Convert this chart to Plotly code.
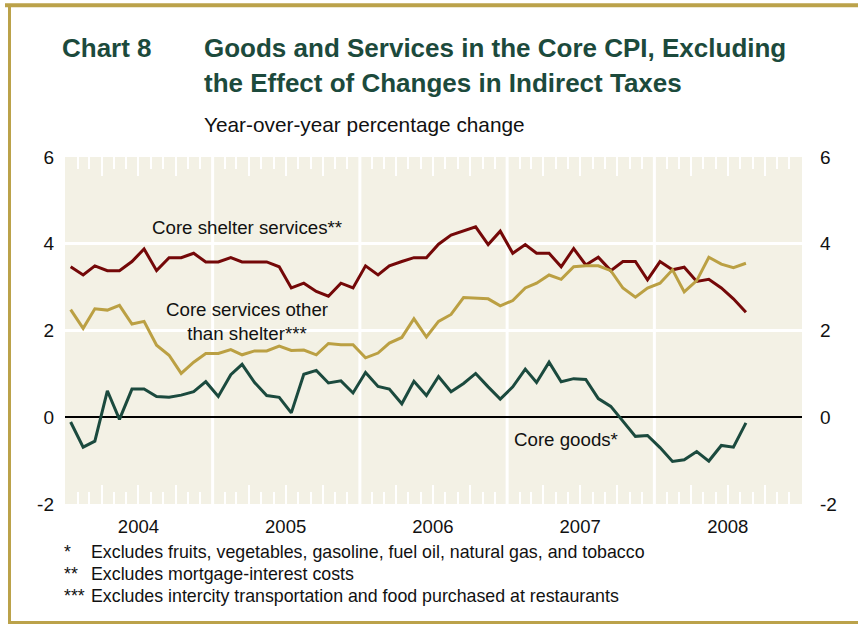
import pandas as pd
import plotly.graph_objects as go

# monthly observations, Jan 2004 - Aug 2008 (plotted mid-month)
months = pd.date_range("2004-01-01", "2008-08-01", freq="MS") + pd.Timedelta(days=14)

shelter = [3.47, 3.28, 3.49, 3.38, 3.38, 3.59, 3.88, 3.38, 3.68, 3.68, 3.78, 3.58,
           3.58, 3.68, 3.58, 3.58, 3.58, 3.47, 2.98, 3.09, 2.90, 2.79, 3.09, 2.98,
           3.49, 3.28, 3.49, 3.59, 3.68, 3.68, 3.99, 4.20, 4.29, 4.39, 3.98, 4.29,
           3.78, 3.98, 3.78, 3.78, 3.47, 3.89, 3.51, 3.69, 3.38, 3.59, 3.59, 3.17,
           3.59, 3.40, 3.46, 3.13, 3.18, 2.98, 2.73, 2.42]

other_services = [2.48, 2.05, 2.50, 2.47, 2.58, 2.15, 2.21, 1.66, 1.43, 1.01, 1.27, 1.47,
                  1.47, 1.56, 1.44, 1.53, 1.53, 1.64, 1.54, 1.55, 1.44, 1.70, 1.67, 1.67,
                  1.37, 1.48, 1.71, 1.84, 2.27, 1.85, 2.21, 2.37, 2.76, 2.75, 2.73, 2.57,
                  2.69, 2.98, 3.09, 3.28, 3.18, 3.47, 3.49, 3.49, 3.38, 2.98, 2.77, 2.98,
                  3.09, 3.40, 2.89, 3.15, 3.69, 3.53, 3.45, 3.55]

goods = [-0.11, -0.69, -0.55, 0.61, -0.05, 0.65, 0.65, 0.48, 0.46, 0.51, 0.59, 0.82,
         0.48, 0.98, 1.22, 0.80, 0.50, 0.46, 0.10, 0.99, 1.08, 0.79, 0.84, 0.56,
         1.03, 0.71, 0.65, 0.31, 0.83, 0.50, 0.94, 0.59, 0.78, 1.01, 0.70, 0.42,
         0.70, 1.11, 0.80, 1.27, 0.82, 0.89, 0.87, 0.43, 0.25, -0.08, -0.44, -0.42,
         -0.70, -1.02, -0.98, -0.79, -1.01, -0.65, -0.69, -0.13]

y_ticks = [-2, 0, 2, 4, 6]
y_labels = ["-2", "0", "2", "4", "6"]

footnotes = [
    ("*", "Excludes fruits, vegetables, gasoline, fuel oil, natural gas, and tobacco"),
    ("**", "Excludes mortgage-interest costs"),
    ("***", "Excludes intercity transportation and food purchased at restaurants"),
]

RED = "#740808"
GOLD = "#bba043"
GREEN = "#1b4a3e"
TITLE_GREEN = "#1c4a3c"
BORDER = "#bba24a"
BG = "#f3f1e5"
INK = "#111111"
FONT = "Liberation Sans, Arial, sans-serif"

# axis decoration
quarters = [d for d in pd.date_range("2004-01-01", "2009-01-01", freq="QS") if d.month != 1]
quarter_text = [str(d.year) if d.month == 7 else "" for d in quarters]
month_ticks = [d for d in pd.date_range("2004-01-01", "2009-01-01", freq="MS")
               if d.month not in (1, 4, 7, 10)]
year_lines = pd.date_range("2005-01-01", "2008-01-01", freq="YS")

# plot area in pixels
L, R, T, B = 65, 802, 157, 504
W, H = 858, 626


def px(x):
    return (x - L) / (R - L)


def py(y):
    return (B - y) / (B - T)


fig = go.Figure()

fig.add_trace(go.Scatter(x=months, y=shelter, mode="lines",
                         line=dict(color=RED, width=3)))
fig.add_trace(go.Scatter(x=months, y=other_services, mode="lines", xaxis="x2",
                         line=dict(color=GOLD, width=3)))
fig.add_trace(go.Scatter(x=months, y=goods, mode="lines", yaxis="y2",
                         line=dict(color=GREEN, width=3)))

for d in year_lines:
    fig.add_vline(x=d.strftime("%Y-%m-%d"), line_color="white", line_width=3, layer="below")

tick_common = dict(
    type="date",
    range=["2004-01-01", "2009-01-01"],
    tickvals=quarters,
    ticks="inside",
    ticklen=19,
    tickwidth=2,
    tickcolor="white",
    showgrid=False,
    zeroline=False,
    showline=False,
    minor=dict(tickvals=month_ticks, ticks="inside", ticklen=12, tickwidth=2,
               tickcolor="white", showgrid=False),
)

y_common = dict(range=[-2, 6], tickvals=y_ticks, ticktext=y_labels, showgrid=False,
                ticks="", tickfont=dict(size=19))

fig.update_layout(
    width=W,
    height=H,
    margin=dict(l=L, r=W - R, t=T, b=H - B),
    paper_bgcolor="white",
    plot_bgcolor=BG,
    showlegend=False,
    hovermode=False,
    font=dict(family=FONT, size=18, color=INK),
    xaxis=dict(**tick_common, ticktext=quarter_text, ticklabelstandoff=9,
               tickfont=dict(size=18.5)),
    xaxis2=dict(**tick_common, overlaying="x", side="top", matches="x", anchor="y",
                showticklabels=False),
    yaxis=dict(**y_common, zeroline=True, zerolinecolor="black", zerolinewidth=1.5,
               minor=dict(tickvals=[2, 4], showgrid=True, gridcolor="white", gridwidth=3),
               ticklabelstandoff=10),
    yaxis2=dict(**y_common, zeroline=False, overlaying="y", side="right", matches="y",
                anchor="x", ticklabelstandoff=17),
)

# frame
frame = [
    dict(x0=px(5), x1=px(870), y0=py(5.3), y1=py(5.3), w=4),
    dict(x0=px(9.5), x1=px(9.5), y0=py(4), y1=py(623), w=3),
    dict(x0=px(8), x1=px(870), y0=py(622.5), y1=py(622.5), w=3),
]
for s in frame:
    fig.add_shape(type="line", xref="paper", yref="paper", x0=s["x0"], x1=s["x1"],
                  y0=s["y0"], y1=s["y1"], line=dict(color=BORDER, width=s["w"]))

title_font = dict(family="Liberation Sans, Arial", size=26, color=TITLE_GREEN)

texts = [
    dict(text="<b>Chart 8</b>", x=60, y=48, font=title_font),
    dict(text="<b>Goods and Services in the Core CPI, Excluding</b>", x=202, y=48, font=title_font),
    dict(text="<b>the Effect of Changes in Indirect Taxes</b>", x=202, y=83, font=title_font),
    dict(text="Year-over-year percentage change", x=202, y=124,
         font=dict(size=20.8, color=INK)),
]
for i, (mark, note) in enumerate(footnotes):
    texts.append(dict(text=mark, x=62, y=552 + 22 * i, font=dict(size=17.8, color=INK)))
    texts.append(dict(text=note, x=89, y=552 + 22 * i, font=dict(size=17.8, color=INK)))

for t in texts:
    fig.add_annotation(text=t["text"], xref="paper", yref="paper", x=px(t["x"]), y=py(t["y"]),
                       xanchor="left", yanchor="middle", showarrow=False, font=t["font"])

# series labels
labels = [
    ("Core shelter services**", "2005-03-28", 4.38),
    ("Core services other<br>than shelter***", "2005-03-28", 2.2),
    ("Core goods*", "2007-05-28", -0.52),
]
for text, x, y in labels:
    fig.add_annotation(text=text, x=x, y=y, xref="x", yref="y", showarrow=False,
                       font=dict(size=18.7, color=INK), align="center")

# the page body has an 8px default margin; remove it so the figure sits at the window corner
fig.write_html("out.html", config={"displayModeBar": False},
               post_script="document.body.style.margin='0';")
